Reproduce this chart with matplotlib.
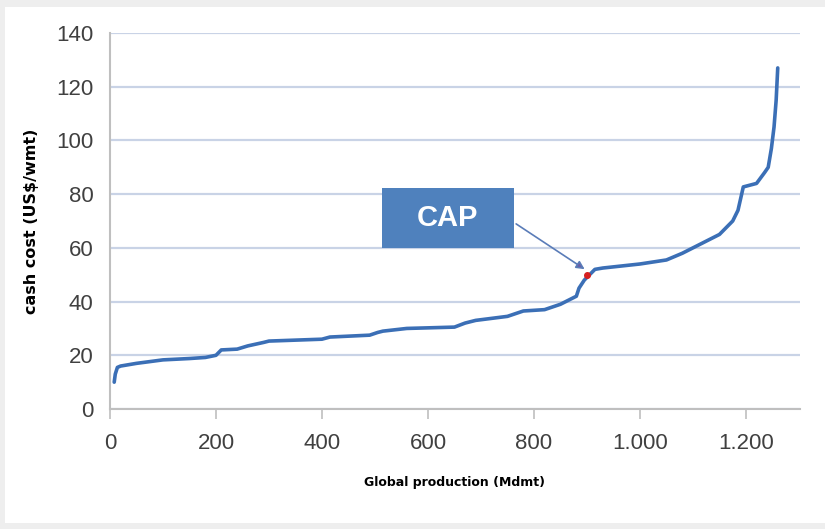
import matplotlib
matplotlib.use('Agg')
import matplotlib.pyplot as plt
from matplotlib.patches import Rectangle
from matplotlib.ticker import FuncFormatter

# cash cost curve
production = [8, 10, 14, 20, 50, 100, 150, 180, 200, 210, 240, 260, 290, 300,
              400, 415, 490, 505, 515, 560, 650, 670, 690, 750, 780, 820, 850,
              870, 880, 885, 895, 905, 915, 930, 1000, 1050, 1080, 1110, 1150,
              1175, 1185, 1195, 1220, 1235, 1242, 1248, 1253, 1257, 1260]
cash_cost = [10, 13, 15.5, 16, 17, 18.3, 18.8, 19.2, 20, 22, 22.3, 23.5, 24.8,
             25.3, 26, 26.8, 27.5, 28.5, 29, 30, 30.5, 32, 33, 34.5, 36.5, 37,
             39, 41, 42, 45, 48, 50, 52, 52.5, 54, 55.5, 58, 61, 65, 70, 74,
             82.7, 84, 88, 90, 97, 105, 115, 127]

cap_x, cap_y = 900, 50
x_ticks = [0, 200, 400, 600, 800, 1000, 1200]
y_ticks = [0, 20, 40, 60, 80, 100, 120, 140]

fig = plt.figure(figsize=(8.25, 5.29), dpi=100, facecolor='#eeeeee')
# white panel inside the grey frame
fig.patches.append(Rectangle((0.006, 0.011), 0.994, 0.976, transform=fig.transFigure,
                             facecolor='white', edgecolor='none', zorder=-5))

ax = fig.add_axes([0.1333, 0.2268, 0.8364, 0.7108])
ax.set_facecolor('white')
ax.plot(production, cash_cost, color='#3b6fb6', lw=2.6, solid_capstyle='round', zorder=3)

ax.set_xlim(0, 1302)
ax.set_ylim(0, 140)
ax.set_xticks(x_ticks)
ax.set_yticks(y_ticks)
ax.xaxis.set_major_formatter(FuncFormatter(lambda v, p: f'{int(v):,}'.replace(',', '.')))
ax.yaxis.grid(True, color='#c9d3e6', lw=1.6)
ax.set_axisbelow(True)

for s in ['top', 'right']:
    ax.spines[s].set_visible(False)
for s in ['left', 'bottom']:
    ax.spines[s].set_color('#bfbfbf')
    ax.spines[s].set_linewidth(1.5)

ax.tick_params(axis='y', length=0, pad=12, labelsize=16, labelcolor='#404040')
ax.tick_params(axis='x', length=7, width=1.2, color='#bfbfbf', pad=10,
               labelsize=16, labelcolor='#404040')
for lab in ax.get_xticklabels() + ax.get_yticklabels():
    lab.set_fontfamily('Liberation Sans')

ax.set_ylabel('cash cost (US$/wmt)', fontsize=11.5, fontweight='bold', labelpad=12)
ax.set_xlabel('Global production (Mdmt)', fontsize=9, fontweight='bold', labelpad=16)

# CAP box and arrow
ax.add_patch(Rectangle((513, 60), 249, 22.3, facecolor='#4f81bd', edgecolor='none',
                       zorder=4, clip_on=False))
ax.text(637, 71, 'CAP', color='white', fontsize=21, fontweight='bold',
        family='Liberation Sans', ha='center', va='center', zorder=5)
ax.annotate('', xy=(cap_x, cap_y + 1.5), xytext=(762, 69.5),
            arrowprops=dict(arrowstyle='-|>', color='#5a7cb8', lw=1.2,
                            mutation_scale=12, fc='#6a5fa8'), zorder=5)
ax.plot([cap_x], [cap_y], 'o', color='#d62020', ms=4, zorder=6)

fig.savefig('out.png', dpi=100, facecolor=fig.get_facecolor())
